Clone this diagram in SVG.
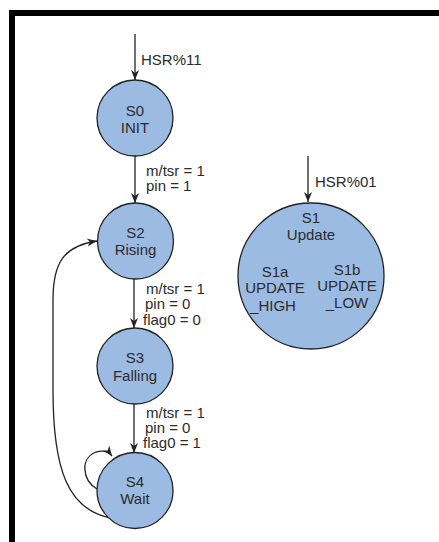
<svg xmlns="http://www.w3.org/2000/svg" width="439" height="542" viewBox="0 0 439 542">
  <style>
    .state { fill: #9cbbe2; stroke: #222; stroke-width: 1.3; }
    .edge { fill: none; stroke: #222; stroke-width: 1.3; }
    text { font-family: "Liberation Sans", Arial, sans-serif; font-size: 15px; fill: #2b2b2b; }
    .c { text-anchor: middle; }
  </style>
  <defs>
    <marker id="arrow" markerUnits="userSpaceOnUse" markerWidth="11" markerHeight="9" refX="10" refY="4.5" orient="auto">
      <path d="M0,0.5 L10,4.5 L0,8.5 L3,4.5 z" fill="#222"/>
    </marker>
  </defs>

  <!-- frame -->
  <rect x="9" y="10" width="430" height="6" fill="#000"/>
  <rect x="9" y="10" width="6" height="532" fill="#000"/>

  <!-- connectors -->
  <g id="connectors">
    <path class="edge" d="M135,34 L135,80" marker-end="url(#arrow)"/>
    <text x="141" y="65">HSR%11</text>
    <path class="edge" d="M135,156 L135,203" marker-end="url(#arrow)"/>
    <text x="146" y="176">m/tsr = 1</text>
    <text x="146" y="191">pin = 1</text>
    <path class="edge" d="M134,279 L134,328" marker-end="url(#arrow)"/>
    <text x="146" y="294">m/tsr = 1</text>
    <text x="145" y="309">pin = 0</text>
    <text x="143" y="325">flag0 = 0</text>
    <path class="edge" d="M134,404 L134,453" marker-end="url(#arrow)"/>
    <text x="146" y="418">m/tsr = 1</text>
    <text x="145" y="433">pin = 0</text>
    <text x="143" y="448">flag0 = 1</text>
    <path class="edge" d="M97,489 C82,480 80,458 96,452 C103,450 109,452 112,456" marker-end="url(#arrow)"/>
    <path class="edge" d="M111,518 C68,510 53,470 53,390 L53,300 C53,262 64,246 97,241" marker-end="url(#arrow)"/>
    <path class="edge" d="M308,156 L308,202" marker-end="url(#arrow)"/>
    <text x="315" y="187">HSR%01</text>
  </g>

  <g id="S0">
    <circle class="state" cx="135" cy="118" r="38"/>
    <text class="c" x="135" y="116">S0</text>
    <text class="c" x="135" y="133">INIT</text>
  </g>
  <g id="S2">
    <circle class="state" cx="135.5" cy="241" r="38"/>
    <text class="c" x="135.5" y="238">S2</text>
    <text class="c" x="135.5" y="255">Rising</text>
  </g>
  <g id="S3">
    <circle class="state" cx="135" cy="366" r="38"/>
    <text class="c" x="135" y="363">S3</text>
    <text class="c" x="135" y="381">Falling</text>
  </g>
  <g id="S4">
    <circle class="state" cx="135" cy="490.5" r="38"/>
    <text class="c" x="135" y="487">S4</text>
    <text class="c" x="135" y="504">Wait</text>
  </g>
  <g id="S1">
    <circle class="state" cx="311" cy="276" r="73"/>
    <text class="c" x="311" y="223">S1</text>
    <text class="c" x="311" y="240">Update</text>
    <text class="c" x="275" y="277">S1a</text>
    <text class="c" x="275" y="293">UPDATE</text>
    <text class="c" x="273" y="311">_HIGH</text>
    <text class="c" x="347" y="275">S1b</text>
    <text class="c" x="347" y="291">UPDATE</text>
    <text class="c" x="347" y="308">_LOW</text>
  </g>
</svg>
